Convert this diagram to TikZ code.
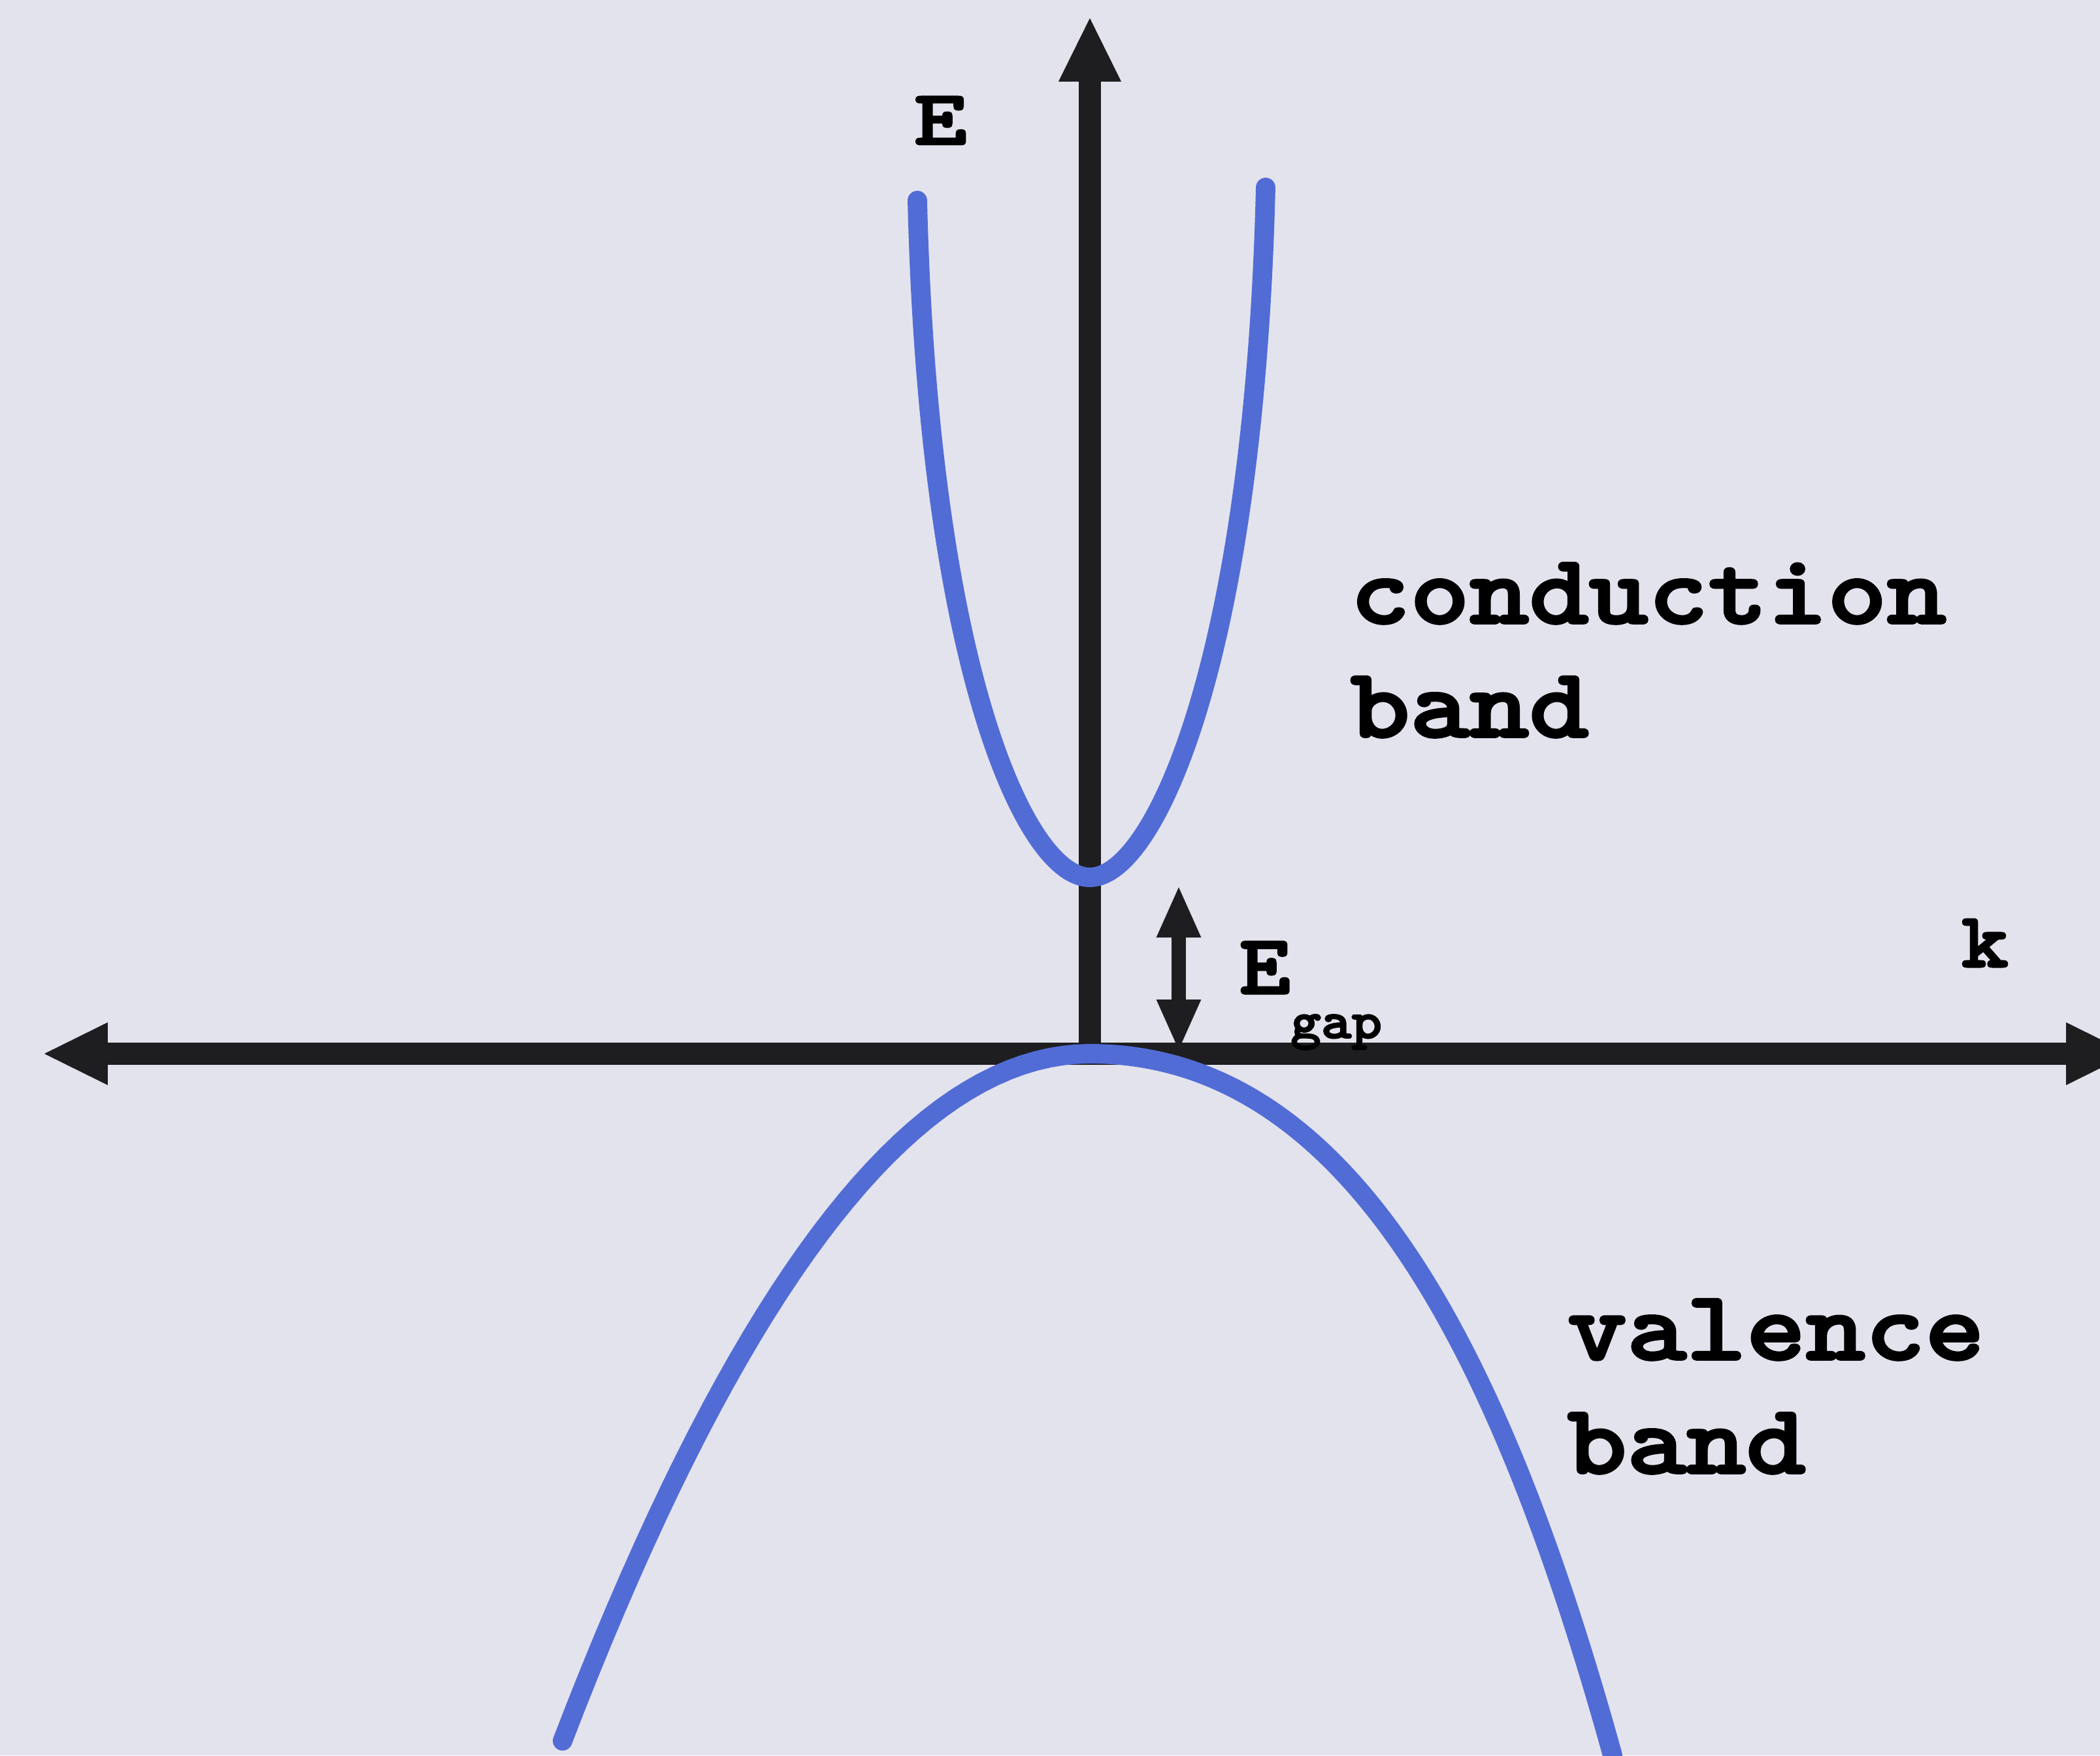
\documentclass[tikz,border=0pt]{standalone}
\usetikzlibrary{arrows.meta}
\definecolor{bgcol}{RGB}{227,227,237}
\definecolor{bandblue}{RGB}{82,108,214}
\definecolor{axiscol}{RGB}{30,30,32}
\font\lblfont="[lmmonolt10-bold]:embolden=2.5;extend=1.15" at 43pt
\font\axfont="[lmmonolt10-bold]:embolden=2.5;extend=1.3" at 34pt
\font\kfont="[lmmonolt10-bold]:embolden=2.5;extend=1.15" at 34pt
\font\egfont="[lmmonolt10-bold]:embolden=2.5;extend=1.15" at 37pt
\font\gapfont="[lmmonolt10-bold]:embolden=2.5;extend=1.1" at 23pt
\begin{document}
\begin{tikzpicture}[
  axis/.style={line width=9.5pt, draw=axiscol},
  tip/.tip={Triangle[length=1cm,width=0.88cm]},
  smalltip/.tip={Triangle[length=0.8cm,width=0.62cm]},
  band/.style={line width=8.5pt, draw=bandblue, line cap=round},
  gaparrow/.style={line width=6.5pt, draw=axiscol, smalltip-smalltip},
  lbl/.style={font={\lblfont\baselineskip=49.5pt\relax}, inner sep=0pt, align=left, anchor=base west},
  axlbl/.style={font=\axfont, inner sep=0pt, anchor=base west},
]
% Canvas
\fill[bgcol] (-16.68,-10.74) rectangle (15.46,16.13);
\useasboundingbox (-16.68,-10.74) rectangle (15.46,16.13);
% Axes
\coordinate (O) at (0,0);
\coordinate (kleft) at (-16.03,0);
\coordinate (kright) at (15.94,0);
\coordinate (Etop) at (0,15.88);
\draw[axis, tip-tip] (kleft) -- (kright);
\draw[axis, -tip] (O) -- (Etop);
% Conduction band
\coordinate (cbL) at (-2.64,13.06);
\coordinate (cbmin) at (0,2.70);
\coordinate (cbR) at (2.69,13.26);
\draw[band] (cbL) .. controls (-2.47,6.0) and (-1.0,2.70) .. (cbmin)
  .. controls (1.0,2.70) and (2.52,6.1) .. (cbR);
% Valence band
\coordinate (vbtop) at (0,0);
\coordinate (vbR) at (8.0,-10.74);
\draw[band] plot[domain=-8.07:0, samples=40] (\x, {-0.1615*\x*\x});
\draw[band] (vbtop) .. controls (4.0,0) and (6.3,-4.6) .. (vbR);
% Gap
\coordinate (gaptop) at (1.36,2.58);
\coordinate (gapbot) at (1.36,0.03);
\draw[gaparrow] (gapbot) -- (gaptop);
% Labels
\node[axlbl] (Elbl) at (-2.70,13.92) {E};
\node[axlbl, font=\kfont] (klbl) at (13.33,1.33) {k};
\node[axlbl, font=\egfont] (gaplbl) at (2.28,0.92) {E\raisebox{-0.68cm}{\gapfont gap}};
\node[lbl] (condlbl) at (3.98,4.85) {conduction\\band};
\node[lbl] (vallbl) at (7.30,-6.42) {valence\\band};
\end{tikzpicture}
\end{document}
